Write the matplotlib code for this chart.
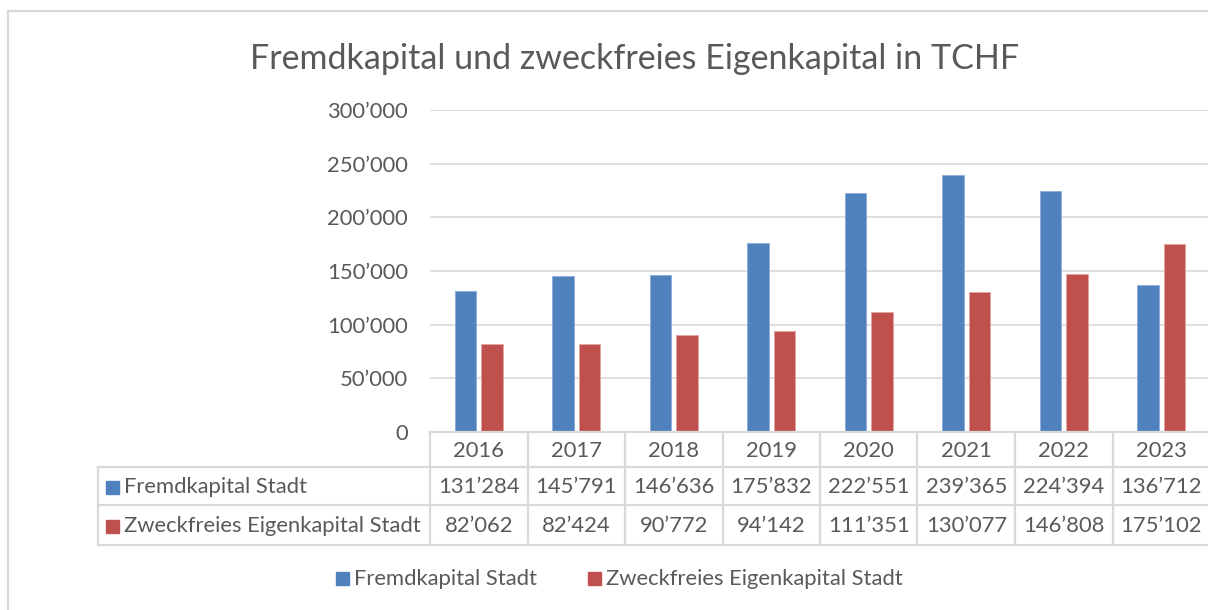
import matplotlib.pyplot as plt
from matplotlib.lines import Line2D
from matplotlib.patches import Rectangle

years = ['2016', '2017', '2018', '2019', '2020', '2021', '2022', '2023']
fremdkapital = [131284, 145791, 146636, 175832, 222551, 239365, 224394, 136712]
eigenkapital = [82062, 82424, 90772, 94142, 111351, 130077, 146808, 175102]
series_names = ['Fremdkapital Stadt', 'Zweckfreies Eigenkapital Stadt']
yticks = [0, 50000, 100000, 150000, 200000, 250000, 300000]

BLUE = '#4F81BD'
RED = '#C0504D'
GRID = '#D9D9D9'
TXT = '#595959'
W, H = 1208, 610
FS = 15.8

plt.rcParams['font.family'] = ['Lato', 'DejaVu Sans']


def fmt(v):
    # swiss style thousands separator
    return f'{v:,}'.replace(',', '\u2019')


def px(x, y):
    # pixel position (from top left) -> figure fraction
    return x / W, 1 - y / H


fig = plt.figure(figsize=(W / 100, H / 100), dpi=100)
ax = fig.add_axes([430 / W, 1 - 432 / H, 780 / W, 322 / H])

x = range(len(years))
bw = 0.22
off = 0.138
ax.bar([i - off for i in x], fremdkapital, width=bw, color=BLUE, edgecolor='#8EAADB', linewidth=0.6, zorder=3)
ax.bar([i + off for i in x], eigenkapital, width=bw, color=RED, edgecolor='#E3A3A1', linewidth=0.6, zorder=3)

ax.set_xlim(-0.5, len(years) - 0.5)
ax.set_ylim(0, 300000)
ax.set_yticks(yticks)
ax.set_yticklabels([fmt(v) for v in yticks], fontsize=FS, color=TXT)
ax.tick_params(axis='y', length=0, pad=16)
ax.set_xticks([])
ax.grid(axis='y', color=GRID, linewidth=1.2, zorder=0)
for s in ax.spines.values():
    s.set_visible(False)

fig.text(*px(635, 59), 'Fremdkapital und zweckfreies Eigenkapital in TCHF',
         ha='center', va='center', fontsize=24.5, color=TXT)

# data table below the plot
edges = [ax.transData.transform((i - 0.5, 0))[0] for i in range(len(years) + 1)]
lkw = dict(color=GRID, linewidth=1.6, transform=fig.transFigure, clip_on=False)
fig.add_artist(Line2D([px(430, 0)[0], px(1210, 0)[0]], [px(0, 432)[1]] * 2, **lkw))
for yy in [467, 505, 545]:
    fig.add_artist(Line2D([px(98, 0)[0], px(1210, 0)[0]], [px(0, yy)[1]] * 2, **lkw))
fig.add_artist(Line2D([px(98, 0)[0]] * 2, [px(0, 467)[1], px(0, 545)[1]], **lkw))
for e in edges:
    fig.add_artist(Line2D([e / W] * 2, [px(0, 432)[1], px(0, 545)[1]], **lkw))

rows = [(fremdkapital, BLUE, 487), (eigenkapital, RED, 526)]
for i, yr in enumerate(years):
    cx = (edges[i] + edges[i + 1]) / 2
    fig.text(cx / W, px(0, 451)[1], yr, ha='center', va='center', fontsize=FS, color=TXT)
    for vals, col, yy in rows:
        fig.text(cx / W, px(0, yy)[1], fmt(vals[i]), ha='center', va='center', fontsize=FS, color=TXT)

for name, (vals, col, yy) in zip(series_names, rows):
    fig.add_artist(Rectangle(px(106, yy + 6.5), 13 / W, 13 / H, color=col, transform=fig.transFigure))
    fig.text(*px(124, yy), name, ha='left', va='center', fontsize=FS, color=TXT)

# legend at the bottom
for name, col, lx in zip(series_names, [BLUE, RED], [336, 588]):
    fig.add_artist(Rectangle(px(lx, 584.5), 13 / W, 13 / H, color=col, transform=fig.transFigure))
    fig.text(*px(lx + 18, 579), name, ha='left', va='center', fontsize=FS, color=TXT)

# chart border (cut off at right and bottom)
bkw = dict(color=GRID, linewidth=1.6, transform=fig.transFigure, clip_on=False)
fig.add_artist(Line2D([px(8, 0)[0], 1], [px(0, 11)[1]] * 2, **bkw))
fig.add_artist(Line2D([px(8, 0)[0]] * 2, [px(0, 11)[1], 0], **bkw))

fig.savefig('out.png', dpi=100)
